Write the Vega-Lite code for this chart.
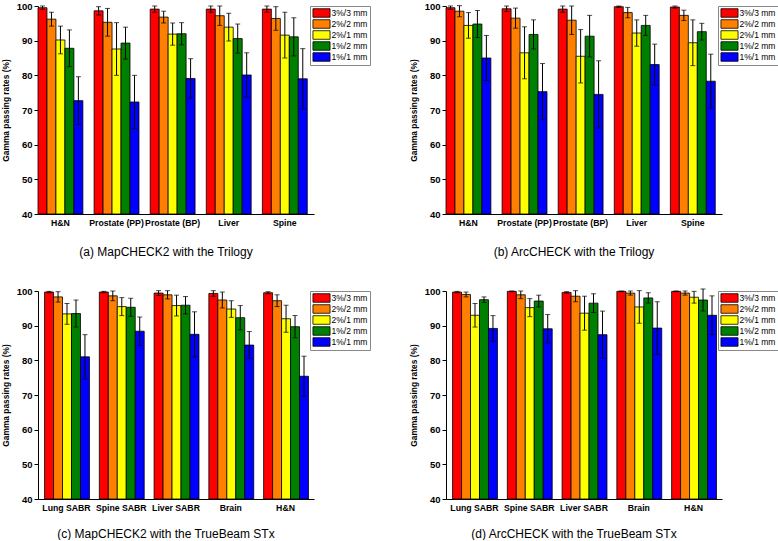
{
  "$schema": "https://vega.github.io/schema/vega-lite/v6.json",
  "padding": {"left": 1, "top": 1, "right": 0, "bottom": 0},
  "background": "white",
  "data": {"values": [
    {"panel":"a","site":"H&N","criterion":"3%/3 mm","mean":99.5,"sd":0.5},
    {"panel":"a","site":"H&N","criterion":"2%/2 mm","mean":96.2,"sd":2.0},
    {"panel":"a","site":"H&N","criterion":"2%/1 mm","mean":90.2,"sd":4.0},
    {"panel":"a","site":"H&N","criterion":"1%/2 mm","mean":87.8,"sd":5.3},
    {"panel":"a","site":"H&N","criterion":"1%/1 mm","mean":72.7,"sd":6.9},
    {"panel":"a","site":"Prostate (PP)","criterion":"3%/3 mm","mean":98.6,"sd":1.2},
    {"panel":"a","site":"Prostate (PP)","criterion":"2%/2 mm","mean":95.3,"sd":4.0},
    {"panel":"a","site":"Prostate (PP)","criterion":"2%/1 mm","mean":87.6,"sd":7.6},
    {"panel":"a","site":"Prostate (PP)","criterion":"1%/2 mm","mean":89.3,"sd":4.6},
    {"panel":"a","site":"Prostate (PP)","criterion":"1%/1 mm","mean":72.3,"sd":7.7},
    {"panel":"a","site":"Prostate (BP)","criterion":"3%/3 mm","mean":99.1,"sd":0.9},
    {"panel":"a","site":"Prostate (BP)","criterion":"2%/2 mm","mean":96.8,"sd":1.7},
    {"panel":"a","site":"Prostate (BP)","criterion":"2%/1 mm","mean":91.9,"sd":3.2},
    {"panel":"a","site":"Prostate (BP)","criterion":"1%/2 mm","mean":92.0,"sd":3.2},
    {"panel":"a","site":"Prostate (BP)","criterion":"1%/1 mm","mean":79.1,"sd":5.7},
    {"panel":"a","site":"Liver","criterion":"3%/3 mm","mean":99.1,"sd":0.9},
    {"panel":"a","site":"Liver","criterion":"2%/2 mm","mean":97.2,"sd":2.8},
    {"panel":"a","site":"Liver","criterion":"2%/1 mm","mean":93.9,"sd":4.0},
    {"panel":"a","site":"Liver","criterion":"1%/2 mm","mean":90.6,"sd":4.2},
    {"panel":"a","site":"Liver","criterion":"1%/1 mm","mean":80.1,"sd":6.4},
    {"panel":"a","site":"Spine","criterion":"3%/3 mm","mean":99.1,"sd":0.9},
    {"panel":"a","site":"Spine","criterion":"2%/2 mm","mean":96.4,"sd":3.4},
    {"panel":"a","site":"Spine","criterion":"2%/1 mm","mean":91.6,"sd":6.6},
    {"panel":"a","site":"Spine","criterion":"1%/2 mm","mean":91.1,"sd":5.5},
    {"panel":"a","site":"Spine","criterion":"1%/1 mm","mean":79.0,"sd":8.7},

    {"panel":"b","site":"H&N","criterion":"3%/3 mm","mean":99.5,"sd":0.5},
    {"panel":"b","site":"H&N","criterion":"2%/2 mm","mean":98.5,"sd":1.6},
    {"panel":"b","site":"H&N","criterion":"2%/1 mm","mean":94.4,"sd":3.7},
    {"panel":"b","site":"H&N","criterion":"1%/2 mm","mean":94.8,"sd":3.9},
    {"panel":"b","site":"H&N","criterion":"1%/1 mm","mean":85.0,"sd":6.5},
    {"panel":"b","site":"Prostate (PP)","criterion":"3%/3 mm","mean":99.2,"sd":0.8},
    {"panel":"b","site":"Prostate (PP)","criterion":"2%/2 mm","mean":96.5,"sd":2.9},
    {"panel":"b","site":"Prostate (PP)","criterion":"2%/1 mm","mean":86.5,"sd":7.5},
    {"panel":"b","site":"Prostate (PP)","criterion":"1%/2 mm","mean":91.8,"sd":4.2},
    {"panel":"b","site":"Prostate (PP)","criterion":"1%/1 mm","mean":75.3,"sd":8.1},
    {"panel":"b","site":"Prostate (BP)","criterion":"3%/3 mm","mean":99.1,"sd":0.9},
    {"panel":"b","site":"Prostate (BP)","criterion":"2%/2 mm","mean":95.9,"sd":4.1},
    {"panel":"b","site":"Prostate (BP)","criterion":"2%/1 mm","mean":85.5,"sd":7.7},
    {"panel":"b","site":"Prostate (BP)","criterion":"1%/2 mm","mean":91.3,"sd":6.0},
    {"panel":"b","site":"Prostate (BP)","criterion":"1%/1 mm","mean":74.5,"sd":9.7},
    {"panel":"b","site":"Liver","criterion":"3%/3 mm","mean":99.8,"sd":0.2},
    {"panel":"b","site":"Liver","criterion":"2%/2 mm","mean":98.1,"sd":1.5},
    {"panel":"b","site":"Liver","criterion":"2%/1 mm","mean":92.2,"sd":3.8},
    {"panel":"b","site":"Liver","criterion":"1%/2 mm","mean":94.4,"sd":2.9},
    {"panel":"b","site":"Liver","criterion":"1%/1 mm","mean":83.1,"sd":5.9},
    {"panel":"b","site":"Spine","criterion":"3%/3 mm","mean":99.7,"sd":0.3},
    {"panel":"b","site":"Spine","criterion":"2%/2 mm","mean":97.3,"sd":1.5},
    {"panel":"b","site":"Spine","criterion":"2%/1 mm","mean":89.4,"sd":6.6},
    {"panel":"b","site":"Spine","criterion":"1%/2 mm","mean":92.6,"sd":2.4},
    {"panel":"b","site":"Spine","criterion":"1%/1 mm","mean":78.3,"sd":7.8},

    {"panel":"c","site":"Lung SABR","criterion":"3%/3 mm","mean":99.7,"sd":0.2},
    {"panel":"c","site":"Lung SABR","criterion":"2%/2 mm","mean":98.3,"sd":1.5},
    {"panel":"c","site":"Lung SABR","criterion":"2%/1 mm","mean":93.4,"sd":3.0},
    {"panel":"c","site":"Lung SABR","criterion":"1%/2 mm","mean":93.5,"sd":3.9},
    {"panel":"c","site":"Lung SABR","criterion":"1%/1 mm","mean":81.0,"sd":6.4},
    {"panel":"c","site":"Spine SABR","criterion":"3%/3 mm","mean":99.7,"sd":0.2},
    {"panel":"c","site":"Spine SABR","criterion":"2%/2 mm","mean":98.6,"sd":1.4},
    {"panel":"c","site":"Spine SABR","criterion":"2%/1 mm","mean":95.5,"sd":2.6},
    {"panel":"c","site":"Spine SABR","criterion":"1%/2 mm","mean":95.3,"sd":2.6},
    {"panel":"c","site":"Spine SABR","criterion":"1%/1 mm","mean":88.4,"sd":4.1},
    {"panel":"c","site":"Liver SABR","criterion":"3%/3 mm","mean":99.4,"sd":0.7},
    {"panel":"c","site":"Liver SABR","criterion":"2%/2 mm","mean":98.9,"sd":1.2},
    {"panel":"c","site":"Liver SABR","criterion":"2%/1 mm","mean":95.8,"sd":3.0},
    {"panel":"c","site":"Liver SABR","criterion":"1%/2 mm","mean":95.9,"sd":2.5},
    {"panel":"c","site":"Liver SABR","criterion":"1%/1 mm","mean":87.5,"sd":6.5},
    {"panel":"c","site":"Brain","criterion":"3%/3 mm","mean":99.3,"sd":0.8},
    {"panel":"c","site":"Brain","criterion":"2%/2 mm","mean":97.4,"sd":2.3},
    {"panel":"c","site":"Brain","criterion":"2%/1 mm","mean":94.8,"sd":2.4},
    {"panel":"c","site":"Brain","criterion":"1%/2 mm","mean":92.3,"sd":3.5},
    {"panel":"c","site":"Brain","criterion":"1%/1 mm","mean":84.4,"sd":3.9},
    {"panel":"c","site":"H&N","criterion":"3%/3 mm","mean":99.5,"sd":0.3},
    {"panel":"c","site":"H&N","criterion":"2%/2 mm","mean":97.2,"sd":1.7},
    {"panel":"c","site":"H&N","criterion":"2%/1 mm","mean":92.0,"sd":3.9},
    {"panel":"c","site":"H&N","criterion":"1%/2 mm","mean":89.7,"sd":3.2},
    {"panel":"c","site":"H&N","criterion":"1%/1 mm","mean":75.4,"sd":5.8},

    {"panel":"d","site":"Lung SABR","criterion":"3%/3 mm","mean":99.7,"sd":0.2},
    {"panel":"d","site":"Lung SABR","criterion":"2%/2 mm","mean":99.0,"sd":0.7},
    {"panel":"d","site":"Lung SABR","criterion":"2%/1 mm","mean":93.0,"sd":3.4},
    {"panel":"d","site":"Lung SABR","criterion":"1%/2 mm","mean":97.5,"sd":0.8},
    {"panel":"d","site":"Lung SABR","criterion":"1%/1 mm","mean":89.2,"sd":3.7},
    {"panel":"d","site":"Spine SABR","criterion":"3%/3 mm","mean":99.9,"sd":0.1},
    {"panel":"d","site":"Spine SABR","criterion":"2%/2 mm","mean":98.9,"sd":1.1},
    {"panel":"d","site":"Spine SABR","criterion":"2%/1 mm","mean":95.2,"sd":2.6},
    {"panel":"d","site":"Spine SABR","criterion":"1%/2 mm","mean":97.1,"sd":1.7},
    {"panel":"d","site":"Spine SABR","criterion":"1%/1 mm","mean":89.1,"sd":4.1},
    {"panel":"d","site":"Liver SABR","criterion":"3%/3 mm","mean":99.6,"sd":0.2},
    {"panel":"d","site":"Liver SABR","criterion":"2%/2 mm","mean":98.5,"sd":1.6},
    {"panel":"d","site":"Liver SABR","criterion":"2%/1 mm","mean":93.6,"sd":4.9},
    {"panel":"d","site":"Liver SABR","criterion":"1%/2 mm","mean":96.5,"sd":2.7},
    {"panel":"d","site":"Liver SABR","criterion":"1%/1 mm","mean":87.4,"sd":6.8},
    {"panel":"d","site":"Brain","criterion":"3%/3 mm","mean":99.9,"sd":0.1},
    {"panel":"d","site":"Brain","criterion":"2%/2 mm","mean":99.4,"sd":0.6},
    {"panel":"d","site":"Brain","criterion":"2%/1 mm","mean":95.4,"sd":4.7},
    {"panel":"d","site":"Brain","criterion":"1%/2 mm","mean":98.0,"sd":1.5},
    {"panel":"d","site":"Brain","criterion":"1%/1 mm","mean":89.3,"sd":7.6},
    {"panel":"d","site":"H&N","criterion":"3%/3 mm","mean":99.9,"sd":0.1},
    {"panel":"d","site":"H&N","criterion":"2%/2 mm","mean":99.4,"sd":0.6},
    {"panel":"d","site":"H&N","criterion":"2%/1 mm","mean":98.2,"sd":1.7},
    {"panel":"d","site":"H&N","criterion":"1%/2 mm","mean":97.4,"sd":3.2},
    {"panel":"d","site":"H&N","criterion":"1%/1 mm","mean":93.0,"sd":5.6}
  ]},
  "columns": 2,
  "spacing": {"row": 28, "column": 38},
  "resolve": {"scale": {"color": "independent"}},
  "concat": [
    {
      "transform": [{"filter": "datum.panel == 'a'"}],
      "title": {"text": "(a) MapCHECK2 with the Trilogy", "offset": 20},
      "width": 276, "height": 208,
      "layer": [
        {"mark": {"type": "bar", "stroke": "black", "strokeWidth": 0.8},
         "encoding": {
           "x": {"field": "site", "type": "nominal", "sort": null, "scale": {"paddingInner": 0.2, "paddingOuter": 0.06, "align": 0}},
           "xOffset": {"field": "criterion", "type": "nominal", "sort": ["3%/3 mm","2%/2 mm","2%/1 mm","1%/2 mm","1%/1 mm"], "scale": {"paddingInner": 0, "paddingOuter": 0}},
           "y": {"field": "mean", "type": "quantitative", "scale": {"domain": [40, 100], "zero": false, "nice": false}, "title": "Gamma passing rates (%)"},
           "y2": {"datum": 40},
           "color": {"field": "criterion", "type": "nominal", "scale": {"domain": ["3%/3 mm","2%/2 mm","2%/1 mm","1%/2 mm","1%/1 mm"], "range": ["#FF0000","#FF8000","#FFFF00","#008000","#0000FF"]}, "legend": {"title": null}}
         }},
        {"mark": {"type": "errorbar", "color": "black", "ticks": {"size": 5, "color": "black"}, "rule": {"color": "black", "strokeWidth": 1}},
         "encoding": {
           "x": {"field": "site", "type": "nominal", "sort": null},
           "xOffset": {"field": "criterion", "type": "nominal", "sort": ["3%/3 mm","2%/2 mm","2%/1 mm","1%/2 mm","1%/1 mm"]},
           "y": {"field": "mean", "type": "quantitative", "title": "Gamma passing rates (%)"},
           "yError": {"field": "sd"}
         }}
      ]
    },
    {
      "transform": [{"filter": "datum.panel == 'b'"}],
      "title": {"text": "(b) ArcCHECK with the Trilogy", "offset": 20},
      "width": 276, "height": 208,
      "layer": [
        {"mark": {"type": "bar", "stroke": "black", "strokeWidth": 0.8},
         "encoding": {
           "x": {"field": "site", "type": "nominal", "sort": null, "scale": {"paddingInner": 0.2, "paddingOuter": 0.06, "align": 0}},
           "xOffset": {"field": "criterion", "type": "nominal", "sort": ["3%/3 mm","2%/2 mm","2%/1 mm","1%/2 mm","1%/1 mm"], "scale": {"paddingInner": 0, "paddingOuter": 0}},
           "y": {"field": "mean", "type": "quantitative", "scale": {"domain": [40, 100], "zero": false, "nice": false}, "title": "Gamma passing rates (%)"},
           "y2": {"datum": 40},
           "color": {"field": "criterion", "type": "nominal", "scale": {"domain": ["3%/3 mm","2%/2 mm","2%/1 mm","1%/2 mm","1%/1 mm"], "range": ["#FF0000","#FF8000","#FFFF00","#008000","#0000FF"]}, "legend": {"title": null}}
         }},
        {"mark": {"type": "errorbar", "color": "black", "ticks": {"size": 5, "color": "black"}, "rule": {"color": "black", "strokeWidth": 1}},
         "encoding": {
           "x": {"field": "site", "type": "nominal", "sort": null},
           "xOffset": {"field": "criterion", "type": "nominal", "sort": ["3%/3 mm","2%/2 mm","2%/1 mm","1%/2 mm","1%/1 mm"]},
           "y": {"field": "mean", "type": "quantitative", "title": "Gamma passing rates (%)"},
           "yError": {"field": "sd"}
         }}
      ]
    },
    {
      "transform": [{"filter": "datum.panel == 'c'"}],
      "title": {"text": "(c) MapCHECK2 with the TrueBeam STx", "offset": 17},
      "width": 276, "height": 208,
      "layer": [
        {"mark": {"type": "bar", "stroke": "black", "strokeWidth": 0.8},
         "encoding": {
           "x": {"field": "site", "type": "nominal", "sort": null, "scale": {"paddingInner": 0.2, "paddingOuter": 0.12, "align": 0.5}},
           "xOffset": {"field": "criterion", "type": "nominal", "sort": ["3%/3 mm","2%/2 mm","2%/1 mm","1%/2 mm","1%/1 mm"], "scale": {"paddingInner": 0, "paddingOuter": 0}},
           "y": {"field": "mean", "type": "quantitative", "scale": {"domain": [40, 100], "zero": false, "nice": false}, "title": "Gamma passing rates (%)"},
           "y2": {"datum": 40},
           "color": {"field": "criterion", "type": "nominal", "scale": {"domain": ["3%/3 mm","2%/2 mm","2%/1 mm","1%/2 mm","1%/1 mm"], "range": ["#FF0000","#FF8000","#FFFF00","#008000","#0000FF"]}, "legend": {"title": null}}
         }},
        {"mark": {"type": "errorbar", "color": "black", "ticks": {"size": 5, "color": "black"}, "rule": {"color": "black", "strokeWidth": 1}},
         "encoding": {
           "x": {"field": "site", "type": "nominal", "sort": null},
           "xOffset": {"field": "criterion", "type": "nominal", "sort": ["3%/3 mm","2%/2 mm","2%/1 mm","1%/2 mm","1%/1 mm"]},
           "y": {"field": "mean", "type": "quantitative", "title": "Gamma passing rates (%)"},
           "yError": {"field": "sd"}
         }}
      ]
    },
    {
      "transform": [{"filter": "datum.panel == 'd'"}],
      "title": {"text": "(d) ArcCHECK with the TrueBeam STx", "offset": 17},
      "width": 276, "height": 208,
      "layer": [
        {"mark": {"type": "bar", "stroke": "black", "strokeWidth": 0.8},
         "encoding": {
           "x": {"field": "site", "type": "nominal", "sort": null, "scale": {"paddingInner": 0.2, "paddingOuter": 0.12, "align": 0.5}},
           "xOffset": {"field": "criterion", "type": "nominal", "sort": ["3%/3 mm","2%/2 mm","2%/1 mm","1%/2 mm","1%/1 mm"], "scale": {"paddingInner": 0, "paddingOuter": 0}},
           "y": {"field": "mean", "type": "quantitative", "scale": {"domain": [40, 100], "zero": false, "nice": false}, "title": "Gamma passing rates (%)"},
           "y2": {"datum": 40},
           "color": {"field": "criterion", "type": "nominal", "scale": {"domain": ["3%/3 mm","2%/2 mm","2%/1 mm","1%/2 mm","1%/1 mm"], "range": ["#FF0000","#FF8000","#FFFF00","#008000","#0000FF"]}, "legend": {"title": null}}
         }},
        {"mark": {"type": "errorbar", "color": "black", "ticks": {"size": 5, "color": "black"}, "rule": {"color": "black", "strokeWidth": 1}},
         "encoding": {
           "x": {"field": "site", "type": "nominal", "sort": null},
           "xOffset": {"field": "criterion", "type": "nominal", "sort": ["3%/3 mm","2%/2 mm","2%/1 mm","1%/2 mm","1%/1 mm"]},
           "y": {"field": "mean", "type": "quantitative", "title": "Gamma passing rates (%)"},
           "yError": {"field": "sd"}
         }}
      ]
    }
  ],
  "config": {
    "view": {"stroke": null},
    "font": "Liberation Sans",
    "axis": {"domainColor": "black", "tickColor": "black", "labelColor": "black", "titleColor": "black", "grid": false, "labelFont": "Liberation Sans", "titleFont": "Liberation Sans", "domainWidth": 1},
    "axisX": {"labelFontWeight": "bold", "labelFontSize": 8.7, "ticks": false, "labelPadding": 4, "labelAngle": 0, "title": null},
    "axisY": {"labelFontWeight": "bold", "labelFontSize": 9.5, "tickSize": 4, "titleFontSize": 8.4, "titleFontWeight": "bold", "values": [40, 50, 60, 70, 80, 90, 100], "labelPadding": 2, "titlePadding": 6},
    "legend": {"orient": "right", "offset": -4, "padding": 2, "strokeColor": "#888888", "fillColor": "white", "symbolType": "M-1.9,-0.95H1.9V0.95H-1.9Z", "symbolSize": 81, "symbolStrokeColor": "black", "symbolStrokeWidth": 0.8, "symbolOpacity": 1, "labelFontSize": 8.5, "labelFont": "Liberation Sans", "labelColor": "black", "rowPadding": -5, "labelOffset": 5, "symbolOffset": 4.5},
    "title": {"orient": "bottom", "fontSize": 12, "fontWeight": "normal", "font": "Liberation Sans", "dx": -10, "frame": "group", "color": "black"}
  }
}
